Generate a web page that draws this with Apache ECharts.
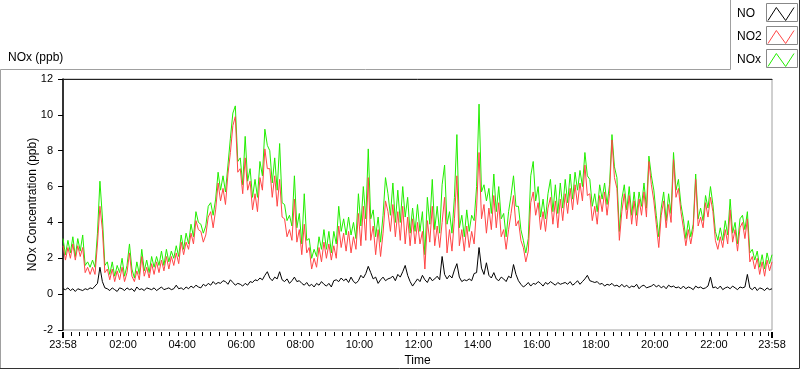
<!DOCTYPE html>
<html>
<head>
<meta charset="utf-8">
<title>NOx</title>
<script src="https://cdn.jsdelivr.net/npm/echarts@6/dist/echarts.min.js"></script>
<style>
  html, body { margin: 0; padding: 0; background: #fff; }
  #chart { width: 800px; height: 369px; }
</style>
</head>
<body>
<div id="chart"></div>
<script>
// one reading every 5 minutes, first one at 23:58 of the day before
const startMinute = -2
const stepMinutes = 5

// NO (ppb)
const noValues = [
  0.30, 0.25, 0.35, 0.20, 0.30, 0.15, 0.30, 0.25, 0.20, 0.30, 0.25, 0.35,
  0.30, 0.45, 0.60, 1.50, 0.70, 0.35, 0.30, 0.20, 0.35, 0.25, 0.15, 0.35,
  0.30, 0.20, 0.35, 0.25, 0.30, 0.15, 0.40, 0.25, 0.30, 0.20, 0.35, 0.30,
  0.25, 0.35, 0.20, 0.30, 0.40, 0.25, 0.30, 0.35, 0.25, 0.30, 0.50, 0.30,
  0.35, 0.25, 0.40, 0.30, 0.45, 0.35, 0.50, 0.40, 0.35, 0.55, 0.45, 0.60,
  0.50, 0.70, 0.55, 0.65, 0.60, 0.75, 0.70, 0.55, 0.80, 0.65, 0.50, 0.60,
  0.55, 0.45, 0.60, 0.50, 0.70, 0.65, 0.80, 0.75, 0.90, 0.80, 1.05, 1.25,
  0.90, 0.75, 0.95, 0.85, 1.25, 0.80, 0.70, 0.85, 0.60, 0.75, 0.95, 0.70,
  0.75, 0.60, 0.50, 0.65, 0.45, 0.55, 0.40, 0.60, 0.50, 0.70, 0.55, 0.45,
  0.60, 0.40, 0.75, 0.80, 0.70, 0.90, 0.75, 0.85, 0.65, 0.95, 0.70, 0.60,
  0.75, 1.05, 0.90, 1.15, 1.55, 1.20, 0.85, 0.95, 0.60, 0.80, 0.95, 0.75,
  0.85, 0.90, 1.00, 0.75, 1.10, 0.95, 1.25, 1.60, 1.05, 0.70, 0.45, 0.65,
  0.85, 0.70, 1.05, 0.80, 0.65, 0.95, 0.75, 0.85, 1.00, 0.80, 2.10, 1.10,
  0.85, 1.05, 0.90, 1.35, 1.70, 0.95, 0.70, 0.80, 0.75, 0.85, 0.75, 1.15,
  1.20, 2.60, 1.45, 1.10, 1.75, 1.05, 0.90, 1.20, 0.85, 0.75, 0.95, 0.85,
  0.70, 1.00, 0.90, 1.65, 1.10, 0.75, 0.55, 0.40, 0.50, 0.65, 0.45, 0.60,
  0.55, 0.70, 0.60, 0.45, 0.65, 0.55, 0.70, 0.60, 0.50, 0.65, 0.55, 0.60,
  0.65, 0.55, 0.70, 0.50, 0.60, 0.75, 0.55, 0.70, 0.85, 1.05, 0.75, 0.70,
  0.65, 0.70, 0.55, 0.60, 0.45, 0.55, 0.50, 0.60, 0.45, 0.50, 0.40, 0.55,
  0.40, 0.50, 0.35, 0.45, 0.40, 0.55, 0.30, 0.45, 0.50, 0.35, 0.40, 0.45,
  0.55, 0.40, 0.50, 0.35, 0.45, 0.30, 0.50, 0.40, 0.45, 0.35, 0.40, 0.30,
  0.45, 0.30, 0.40, 0.35, 0.25, 0.45, 0.35, 0.40, 0.30, 0.35, 0.45, 0.95,
  0.35, 0.40, 0.30, 0.45, 0.25, 0.35, 0.40, 0.30, 0.45, 0.35, 0.25, 0.40,
  0.35, 0.40, 1.10, 0.35, 0.25, 0.40, 0.20, 0.35, 0.30, 0.20, 0.35, 0.25, 0.30
]

// NO2 (ppb)
const no2Values = [
  2.7, 1.9, 2.6, 2.0, 2.8, 1.9, 2.7, 2.1, 2.6, 1.2, 1.5, 1.1,
  1.5, 1.1, 2.8, 4.9, 3.6, 1.2, 1.4, 0.8, 1.4, 0.7, 1.3, 0.8,
  1.5, 0.7, 1.2, 2.3, 1.0, 0.7, 1.3, 0.8, 2.1, 1.0, 1.5, 0.9,
  1.7, 1.1, 1.8, 1.2, 1.9, 1.3, 2.1, 1.4, 2.1, 1.6, 2.3, 1.7,
  2.9, 2.2, 2.9, 2.5, 3.4, 2.8, 4.1, 3.6, 3.5, 2.9, 3.3, 4.3,
  4.6, 3.7, 4.7, 6.2, 5.2, 5.9, 5.0, 6.7, 7.9, 9.4, 9.9, 6.8,
  7.0, 5.6, 7.6, 5.8, 6.3, 4.7, 5.6, 4.6, 6.5, 5.8, 8.1, 7.0,
  7.0, 5.4, 6.6, 4.9, 6.4, 4.3, 4.2, 3.2, 3.6, 3.0, 5.3, 2.9,
  3.6, 2.2, 3.9, 2.3, 2.6, 1.4, 2.0, 1.5, 2.6, 1.8, 2.9, 2.0,
  2.8, 1.9, 2.7, 2.0, 3.8, 2.6, 3.4, 2.4, 3.5, 2.3, 3.2, 2.5,
  4.5, 2.7, 4.9, 3.0, 6.5, 3.0, 3.8, 2.2, 3.6, 2.1, 3.4, 5.2,
  4.6, 3.5, 5.0, 3.2, 4.6, 3.0, 4.9, 2.8, 4.3, 2.7, 4.2, 2.8,
  4.0, 2.8, 3.5, 1.4, 4.1, 2.9, 4.9, 2.7, 3.8, 2.6, 4.0, 5.4,
  2.3, 3.6, 2.4, 4.2, 6.6, 2.7, 3.6, 2.4, 3.8, 2.6, 3.5, 2.8,
  4.8, 7.9, 4.2, 5.0, 3.4, 4.8, 3.6, 5.5, 3.7, 5.1, 3.2, 3.6,
  2.5, 3.6, 4.5, 5.5, 3.8, 4.1, 3.0, 2.6, 1.8, 2.4, 5.1, 5.7,
  4.4, 5.1, 3.6, 4.6, 3.5, 4.8, 5.4, 3.9, 5.2, 3.7, 5.3, 4.1,
  5.6, 4.5, 5.9, 4.7, 6.1, 5.0, 6.2, 5.2, 7.2, 5.5, 5.6, 4.1,
  4.9, 3.9, 5.5, 4.6, 5.7, 4.4, 5.6, 8.6, 6.5, 5.9, 3.0, 4.6,
  5.6, 4.2, 5.5, 3.9, 5.2, 3.8, 5.3, 4.4, 5.7, 4.3, 7.4, 6.1,
  5.2, 3.9, 2.6, 4.4, 5.2, 3.7, 5.0, 4.0, 7.5, 5.4, 5.9, 4.6,
  3.7, 2.7, 3.6, 2.8, 3.6, 6.4, 3.8, 4.3, 3.7, 5.1, 4.3, 5.4,
  4.6, 3.0, 2.5, 3.2, 2.6, 3.6, 2.8, 4.7, 2.9, 3.6, 2.4, 3.7,
  4.0, 3.1, 4.2, 1.8, 2.1, 1.4, 2.0, 1.1, 1.8, 1.0, 1.9, 1.3, 1.8
]

// NOx (ppb)
const noxValues = [
  3.1, 2.2, 3.0, 2.3, 3.2, 2.1, 3.1, 2.4, 3.3, 1.6, 1.8, 1.5,
  1.9, 1.5, 3.4, 6.3, 4.3, 1.6, 1.8, 1.1, 1.8, 1.0, 1.6, 1.2,
  2.0, 1.0, 1.6, 2.8, 1.4, 0.9, 1.8, 1.1, 2.5, 1.3, 1.9, 1.2,
  2.1, 1.5, 2.1, 1.6, 2.4, 1.6, 2.5, 1.8, 2.4, 2.0, 2.7, 2.1,
  3.3, 2.5, 3.4, 2.8, 3.9, 3.2, 4.6, 4.0, 3.9, 3.4, 3.8, 4.9,
  5.1, 4.4, 5.3, 6.8, 5.8, 6.6, 5.7, 7.2, 8.7, 10.1, 10.5, 7.4,
  7.6, 6.1, 8.8, 6.3, 7.0, 5.4, 6.4, 5.4, 7.4, 6.6, 9.2, 8.3,
  8.0, 6.2, 7.6, 5.8, 8.4, 5.1, 5.0, 4.1, 4.4, 3.8, 6.6, 3.7,
  4.5, 2.8, 5.6, 3.0, 3.1, 2.0, 2.5, 2.1, 3.2, 2.5, 3.6, 2.5,
  3.5, 2.3, 3.5, 2.8, 4.9, 3.5, 4.2, 3.3, 4.3, 3.3, 4.0, 3.1,
  5.6, 3.8, 6.0, 4.2, 8.1, 4.2, 4.7, 3.2, 4.3, 2.9, 4.4, 6.5,
  5.6, 4.4, 6.2, 4.0, 5.8, 4.0, 6.0, 4.3, 5.4, 3.4, 4.8, 3.5,
  5.0, 3.5, 4.6, 2.2, 5.4, 3.9, 6.4, 3.6, 4.9, 3.4, 6.1, 7.2,
  3.9, 4.6, 3.4, 5.4, 8.9, 3.7, 4.4, 3.2, 4.7, 3.5, 4.4, 4.1,
  6.0, 10.6, 5.7, 6.1, 5.2, 5.9, 4.5, 6.7, 4.6, 6.0, 4.2, 4.5,
  3.2, 4.6, 5.5, 6.6, 4.9, 4.9, 3.6, 3.0, 2.3, 3.1, 6.6, 7.4,
  5.2, 6.0, 4.3, 5.3, 4.2, 5.6, 6.4, 4.6, 6.1, 4.5, 6.2, 4.8,
  6.4, 5.1, 6.7, 5.3, 6.8, 5.8, 6.9, 6.0, 7.9, 6.6, 6.4, 4.9,
  5.6, 4.6, 6.1, 5.3, 6.2, 5.0, 6.1, 8.9, 7.1, 6.5, 3.5, 5.3,
  6.1, 4.7, 6.0, 4.4, 5.7, 4.4, 5.7, 4.9, 6.2, 4.8, 7.7, 6.6,
  5.8, 4.4, 3.2, 4.8, 5.7, 4.1, 5.6, 4.5, 7.9, 5.8, 6.4, 5.0,
  4.2, 3.1, 4.1, 3.2, 3.9, 6.7, 4.2, 4.8, 4.1, 5.5, 4.8, 6.0,
  5.0, 3.5, 3.0, 3.7, 3.0, 4.1, 3.3, 5.3, 3.4, 4.0, 2.8, 4.2,
  4.4, 3.6, 4.6, 2.3, 2.5, 1.9, 2.4, 1.5, 2.2, 1.4, 2.3, 1.7, 2.2
]

// labelled ticks, in minutes from midnight (-2 = 23:58 the day before)
const timeTickMinutes = [-2, 120, 240, 360, 480, 600, 720, 840, 960, 1080, 1200, 1320, 1438]
const axisMin = -2
const axisMax = 1438
// the small ticks come every 1000 s
const smallTickMinutes = []
for (let t = axisMin; t <= axisMax + 0.01; t += 1000 / 60) smallTickMinutes.push(t)

function toPairs(values) {
  return values.map((v, i) => [startMinute + i * stepMinutes, v])
}

function clockLabel(v) {
  const m = ((Math.round(v) % 1440) + 1440) % 1440
  const hh = String(Math.floor(m / 60)).padStart(2, '0')
  const mm = String(m % 60).padStart(2, '0')
  return hh + ':' + mm
}

const textFont = "'Liberation Sans', Arial, sans-serif"

const chart = echarts.init(document.getElementById('chart'), null, { renderer: 'canvas' })

const zigzag = 'path://M0,14 L9,0 L19,14 L28,0'

const option = {
  animation: false,
  backgroundColor: '#fff',
  title: {
    text: 'NOx (ppb)',
    left: 8,
    top: 52,
    padding: 0,
    textStyle: { fontFamily: textFont, fontSize: 12, fontWeight: 'normal', color: '#000' }
  },
  legend: {
    orient: 'vertical',
    left: 737,
    top: 7,
    padding: 0,
    align: 'right',
    icon: zigzag,
    itemWidth: 26,
    itemHeight: 14,
    itemGap: 9,
    selectedMode: false,
    formatter: '{n|{name}}',
    textStyle: {
      rich: { n: { width: 26, align: 'left', lineHeight: 14, fontFamily: textFont, fontSize: 12, color: '#000' } }
    },
    data: [
      { name: 'NO', itemStyle: { color: 'transparent', borderColor: '#000', borderWidth: 1 } },
      { name: 'NO2', itemStyle: { color: 'transparent', borderColor: '#ff4646', borderWidth: 1 } },
      { name: 'NOx', itemStyle: { color: 'transparent', borderColor: '#22ee00', borderWidth: 1 } }
    ]
  },
  grid: {
    left: 63,
    top: 79,
    right: 28,
    bottom: 39,
    outerBoundsMode: 'none',
    show: true,
    borderColor: '#a0a0a0',
    borderWidth: 1
  },
  xAxis: [
    {
      type: 'value',
      min: axisMin,
      max: axisMax,
      position: 'bottom',
      offset: 2,
      name: 'Time',
      nameLocation: 'middle',
      nameGap: 23,
      nameMoveOverlap: false,
      nameTextStyle: { fontFamily: textFont, fontSize: 12, color: '#000' },
      axisLine: { show: false, onZero: false },
      axisTick: {
        show: true,
        customValues: smallTickMinutes,
        length: 4,
        lineStyle: { color: '#000', width: 1 }
      },
      axisLabel: {
        customValues: timeTickMinutes,
        formatter: clockLabel,
        fontFamily: textFont,
        fontSize: 11,
        color: '#000',
        margin: 7
      },
      splitLine: { show: false }
    },
    {
      type: 'value',
      min: axisMin,
      max: axisMax,
      position: 'bottom',
      offset: 2,
      axisLine: { show: false, onZero: false },
      axisTick: {
        show: true,
        customValues: [axisMin, axisMax],
        length: 6,
        lineStyle: { color: '#000', width: 2 }
      },
      axisLabel: { show: false },
      splitLine: { show: false }
    },
    {
      type: 'value',
      min: axisMin,
      max: axisMax,
      position: 'top',
      axisLine: { show: true, onZero: false, lineStyle: { color: '#222', width: 1 } },
      axisTick: { show: false },
      axisLabel: { show: false },
      splitLine: { show: false }
    }
  ],
  yAxis: {
    type: 'value',
    min: -2,
    max: 12,
    interval: 2,
    name: 'NOx Concentration (ppb)',
    nameLocation: 'middle',
    nameRotate: 90,
    nameGap: 24,
    nameMoveOverlap: false,
    nameTextStyle: { fontFamily: textFont, fontSize: 12, color: '#000' },
    axisLine: { show: true, onZero: false, lineStyle: { color: '#000', width: 1.5 } },
    axisTick: { show: true, length: 5, lineStyle: { color: '#000' } },
    axisLabel: { fontFamily: textFont, fontSize: 11, color: '#000', margin: 10 },
    splitLine: { show: false }
  },
  series: [
    {
      name: 'NOx',
      type: 'line',
      data: toPairs(noxValues),
      showSymbol: false,
      symbol: 'none',
      lineStyle: { color: '#22ee00', width: 1 },
      itemStyle: { color: '#22ee00' },
      z: 2
    },
    {
      name: 'NO2',
      type: 'line',
      data: toPairs(no2Values),
      showSymbol: false,
      symbol: 'none',
      lineStyle: { color: '#ff4646', width: 1 },
      itemStyle: { color: '#ff4646' },
      z: 3
    },
    {
      name: 'NO',
      type: 'line',
      data: toPairs(noValues),
      showSymbol: false,
      symbol: 'none',
      lineStyle: { color: '#000', width: 1 },
      itemStyle: { color: '#000' },
      z: 4
    }
  ],
  graphic: [
    // outer frame of the graph panel
    {
      type: 'polyline',
      silent: true,
      shape: { points: [[0.5, 368], [0.5, 69.5], [730.5, 69.5], [730.5, 0]] },
      style: { stroke: '#a0a0a0', fill: null, lineWidth: 1 }
    },
    {
      type: 'polyline',
      silent: true,
      shape: { points: [[799.5, 0], [799.5, 368.5], [0, 368.5]] },
      style: { stroke: '#333', fill: null, lineWidth: 1 }
    },
    // boxes round the legend swatches
    { type: 'rect', silent: true, shape: { x: 766.5, y: 3.5, width: 31, height: 18 }, style: { stroke: '#888', fill: null } },
    { type: 'rect', silent: true, shape: { x: 766.5, y: 26.5, width: 31, height: 18 }, style: { stroke: '#888', fill: null } },
    { type: 'rect', silent: true, shape: { x: 766.5, y: 49.5, width: 31, height: 18 }, style: { stroke: '#888', fill: null } }
  ]
}

chart.setOption(option)
</script>
</body>
</html>
